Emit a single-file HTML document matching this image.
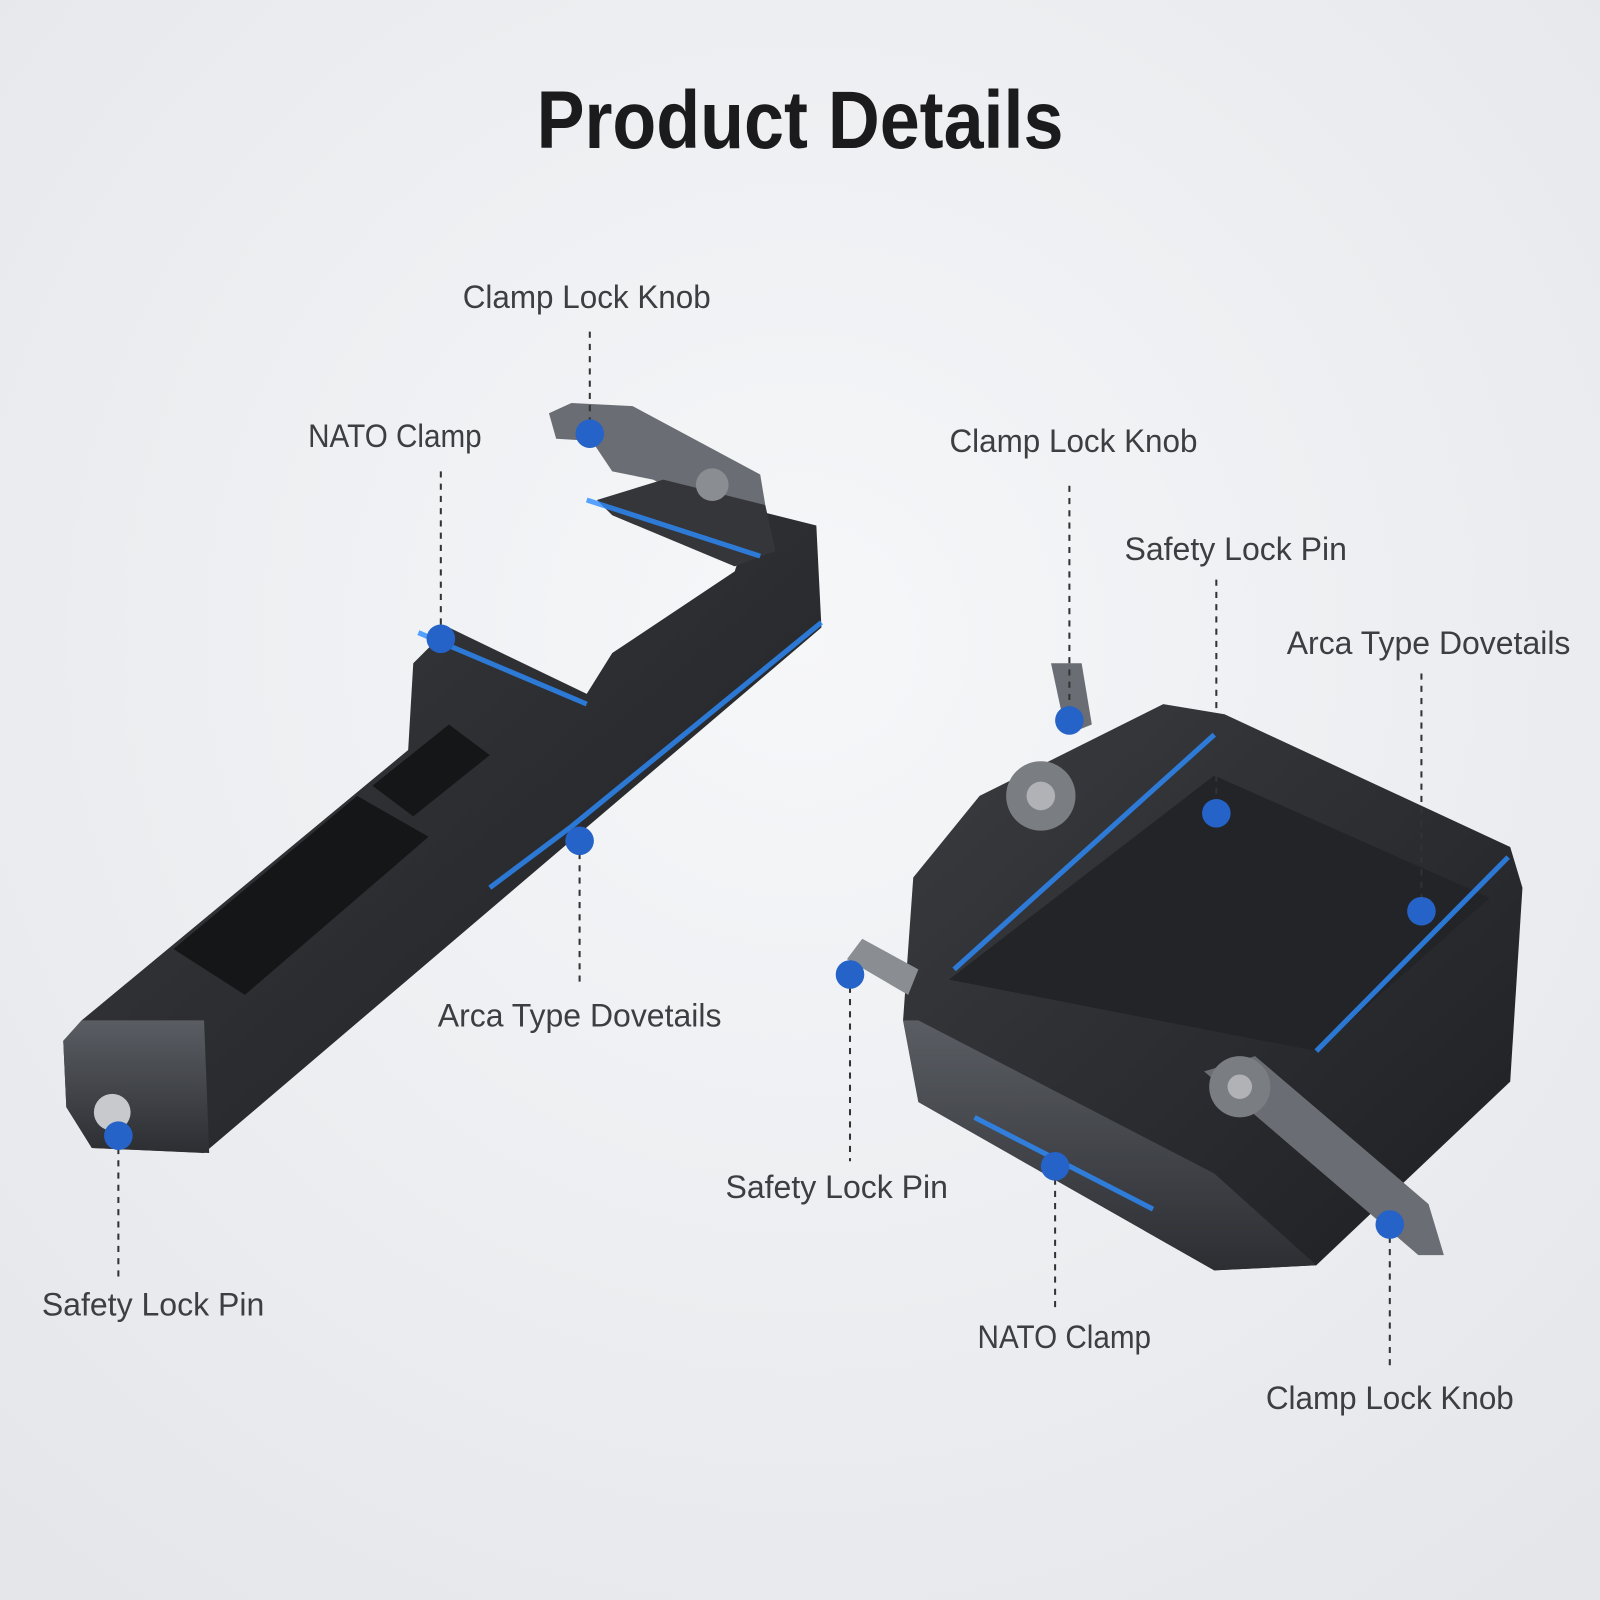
<!DOCTYPE html>
<html><head><meta charset="utf-8"><style>
html,body{margin:0;padding:0;width:1600px;height:1600px;overflow:hidden;background:#eef0f3}
svg{display:block}
.l{font-family:"Liberation Sans Narrow","Liberation Sans",sans-serif;font-size:32px;fill:#3c3e42}
</style></head><body>
<svg width="1600" height="1600" viewBox="0 0 1568 1568" xmlns="http://www.w3.org/2000/svg">
<defs>
<radialGradient id="bg" cx="50%" cy="40%" r="75%"><stop offset="0" stop-color="#f6f7f9"/><stop offset="1" stop-color="#e4e6ea"/></radialGradient>
<linearGradient id="m" x1="0" y1="0" x2="1" y2="1"><stop offset="0" stop-color="#3a3c40"/><stop offset="1" stop-color="#1e1f22"/></linearGradient>
<linearGradient id="s" x1="0" y1="0" x2="0" y2="1"><stop offset="0" stop-color="#5a5d63"/><stop offset="1" stop-color="#2c2e32"/></linearGradient>
</defs>
<rect width="1568" height="1568" fill="url(#bg)"/>
<text x="784" y="145" text-anchor="middle" transform="translate(784 0) scale(0.88 1) translate(-784 0)" font-family="Liberation Sans Narrow,Liberation Sans,sans-serif" font-weight="bold" font-size="80" fill="#1b1b1d">Product Details</text>

<!-- left product -->
<polygon points="62,1020 80,1000 400,735 405,650 440,615 575,680 600,640 720,560 740,500 800,515 805,615 200,1130 90,1125 65,1085" fill="url(#m)"/>
<polygon points="62,1020 80,1000 200,1000 205,1130 90,1125 65,1085" fill="url(#s)"/>
<polygon points="170,930 350,780 420,820 240,975" fill="#151618"/>
<polygon points="365,770 440,710 480,740 405,800" fill="#151618"/>
<polygon points="538,405 560,395 620,398 745,465 750,495 700,500 640,470 600,462 580,432 545,430" fill="#6a6d73"/>
<polygon points="585,490 650,470 750,495 760,540 720,555 600,505" fill="#34363a"/>
<circle cx="698" cy="475" r="16" fill="#8a8d92"/>
<circle cx="110" cy="1090" r="18" fill="#c8c9cc"/>
<path d="M410,620 L575,690 M575,490 L745,545 M805,610 L560,810 M480,870 L560,810" stroke="#2d8cff" stroke-width="5" fill="none" opacity="0.8"/>

<!-- right product -->
<polygon points="895,860 960,780 1140,690 1200,700 1480,830 1492,870 1480,1060 1290,1240 1190,1245 900,1080 885,1000" fill="url(#m)"/>
<polygon points="900,1000 1190,1150 1290,1240 1190,1245 900,1080 885,1000" fill="url(#s)"/>
<polygon points="930,960 1190,760 1460,880 1290,1030" fill="#232428"/>
<polygon points="1030,650 1060,650 1070,710 1045,720" fill="#6a6d73"/>
<circle cx="1020" cy="780" r="34" fill="#7a7d82"/>
<circle cx="1020" cy="780" r="14" fill="#b0b2b6"/>
<polygon points="1180,1050 1230,1035 1400,1180 1415,1230 1390,1230" fill="#6a6d73"/>
<circle cx="1215" cy="1065" r="30" fill="#7a7d82"/>
<circle cx="1215" cy="1065" r="12" fill="#b0b2b6"/>
<polygon points="830,940 845,920 900,950 890,975" fill="#8a8d92"/>
<path d="M935,950 L1190,720 M1290,1030 L1478,840 M955,1095 L1130,1185" stroke="#2d8cff" stroke-width="5" fill="none" opacity="0.8"/>

<!-- dashed leaders -->
<g stroke="#333" stroke-width="2" stroke-dasharray="6,6" fill="none">
<line x1="578" y1="325" x2="578" y2="425"/>
<line x1="432" y1="462" x2="432" y2="626"/>
<line x1="568" y1="824" x2="568" y2="965"/>
<line x1="116" y1="1113" x2="116" y2="1255"/>
<line x1="1048" y1="476" x2="1048" y2="706"/>
<line x1="1192" y1="568" x2="1192" y2="797"/>
<line x1="1393" y1="660" x2="1393" y2="893"/>
<line x1="833" y1="955" x2="833" y2="1138"/>
<line x1="1034" y1="1143" x2="1034" y2="1285"/>
<line x1="1362" y1="1200" x2="1362" y2="1342"/>
</g>
<g fill="#2563c9">
<circle cx="578" cy="425" r="14"/><circle cx="432" cy="626" r="14"/><circle cx="568" cy="824" r="14"/><circle cx="116" cy="1113" r="14"/>
<circle cx="1048" cy="706" r="14"/><circle cx="1192" cy="797" r="14"/><circle cx="1393" cy="893" r="14"/><circle cx="833" cy="955" r="14"/>
<circle cx="1034" cy="1143" r="14"/><circle cx="1362" cy="1200" r="14"/>
</g>
<g class="l">
<text x="575" y="302" text-anchor="middle" textLength="243" lengthAdjust="spacingAndGlyphs">Clamp Lock Knob</text>
<text x="387" y="438" text-anchor="middle" textLength="170" lengthAdjust="spacingAndGlyphs">NATO Clamp</text>
<text x="568" y="1006" text-anchor="middle" textLength="278" lengthAdjust="spacingAndGlyphs">Arca Type Dovetails</text>
<text x="150" y="1289" text-anchor="middle" textLength="218" lengthAdjust="spacingAndGlyphs">Safety Lock Pin</text>
<text x="1052" y="443" text-anchor="middle" textLength="243" lengthAdjust="spacingAndGlyphs">Clamp Lock Knob</text>
<text x="1211" y="549" text-anchor="middle" textLength="218" lengthAdjust="spacingAndGlyphs">Safety Lock Pin</text>
<text x="1400" y="641" text-anchor="middle" textLength="278" lengthAdjust="spacingAndGlyphs">Arca Type Dovetails</text>
<text x="820" y="1174" text-anchor="middle" textLength="218" lengthAdjust="spacingAndGlyphs">Safety Lock Pin</text>
<text x="1043" y="1321" text-anchor="middle" textLength="170" lengthAdjust="spacingAndGlyphs">NATO Clamp</text>
<text x="1362" y="1381" text-anchor="middle" textLength="243" lengthAdjust="spacingAndGlyphs">Clamp Lock Knob</text>
</g>
</svg>
</body></html>
